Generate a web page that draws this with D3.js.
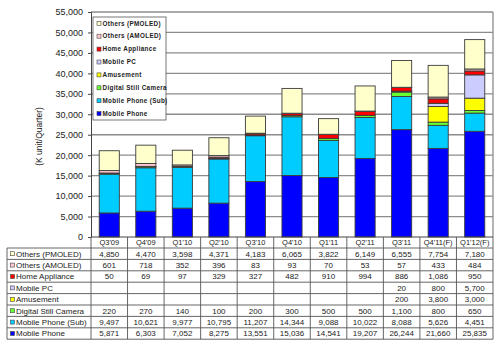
<!DOCTYPE html>
<html>
<head>
<meta charset="utf-8">
<script src="https://cdn.jsdelivr.net/npm/d3@7"></script>
<style>
  body { margin: 0; background: #fff; }
  svg { font-family: Arial, "Liberation Sans", sans-serif; }
</style>
</head>
<body>
<div id="chart"></div>
<script>
// data
const categories = ["Q3'09", "Q4'09", "Q1'10", "Q2'10", "Q3'10", "Q4'10", "Q1'11", "Q2'11", "Q3'11", "Q4'11(F)", "Q1'12(F)"];
const othersPmoled = [4850, 4470, 3598, 4371, 4183, 6065, 3822, 6149, 6555, 7754, 7180];
const othersAmoled = [601, 718, 352, 396, 83, 93, 70, 53, 57, 433, 484];
const homeAppliance = [50, 69, 97, 329, 327, 482, 910, 994, 886, 1086, 950];
const mobilePC = [null, null, null, null, null, null, null, null, 20, 800, 5700];
const amusement = [null, null, null, null, null, null, null, null, 200, 3800, 3000];
const digitalCamera = [220, 270, 140, 100, 200, 300, 500, 500, 1100, 800, 650];
const mobileSub = [9497, 10621, 9977, 10795, 11207, 14344, 9088, 10022, 8088, 5626, 4451];
const mobilePhone = [5871, 6303, 7052, 8275, 13551, 15036, 14541, 19207, 26244, 21660, 25835];
const yTicks = [0, 5000, 10000, 15000, 20000, 25000, 30000, 35000, 40000, 45000, 50000, 55000];

// top-to-bottom order, as in legend and table
const series = [
  { name: "Others (PMOLED)", values: othersPmoled, color: "#ffffcc" },
  { name: "Others (AMOLED)", values: othersAmoled, color: "#ffc8d0" },
  { name: "Home Appliance", values: homeAppliance, color: "#ff0000" },
  { name: "Mobile PC", values: mobilePC, color: "#ccccff" },
  { name: "Amusement", values: amusement, color: "#ffff00" },
  { name: "Digital Still Camera", values: digitalCamera, color: "#66ff33" },
  { name: "Mobile Phone (Sub)", values: mobileSub, color: "#00ccff" },
  { name: "Mobile Phone", values: mobilePhone, color: "#0000ff" }
];

const W = 500, H = 352;
const plot = { left: 91, right: 493, top: 12, bottom: 237 };
const table = { left: 7, top: 248, rowH: 11.4 };

const svg = d3.select("#chart").append("svg")
  .attr("width", W).attr("height", H);

const x = d3.scaleBand()
  .domain(categories)
  .range([plot.left, plot.right])
  .paddingInner(0.45)
  .paddingOuter(0.225);

const y = d3.scaleLinear()
  .domain([0, 55000])
  .range([plot.bottom, plot.top]);

// gridlines
svg.append("g")
  .selectAll("line")
  .data(yTicks.slice(1))
  .join("line")
  .attr("x1", plot.left).attr("x2", plot.right)
  .attr("y1", d => y(d)).attr("y2", d => y(d))
  .attr("stroke", "#8c8c8c").attr("stroke-width", 1.3);

// right border of plot
svg.append("line")
  .attr("x1", plot.right).attr("x2", plot.right)
  .attr("y1", plot.top).attr("y2", plot.bottom)
  .attr("stroke", "#8c8c8c").attr("stroke-width", 1.3);

// y axis
const yAxis = svg.append("g")
  .attr("transform", `translate(${plot.left},0)`)
  .call(d3.axisLeft(y).tickValues(yTicks).tickFormat(d3.format(",")).tickSize(3).tickPadding(5));
yAxis.select(".domain").attr("stroke", "#444");
yAxis.selectAll(".tick line").attr("stroke", "#444");
yAxis.selectAll("text").style("font-size", "9px").attr("fill", "#222");

svg.append("text")
  .attr("transform", `translate(42,${(plot.top + plot.bottom) / 2 + 12}) rotate(-90)`)
  .attr("text-anchor", "middle")
  .style("font-size", "8.5px")
  .attr("fill", "#222")
  .text("(K unit/Quarter)");

// stacked bars
const keys = series.map(s => s.name).reverse();
const rows = categories.map((c, i) => {
  const r = { cat: c };
  series.forEach(s => { r[s.name] = s.values[i] || 0; });
  return r;
});
const stacked = d3.stack().keys(keys)(rows);
const colorOf = Object.fromEntries(series.map(s => [s.name, s.color]));

svg.append("g")
  .selectAll("g")
  .data(stacked)
  .join("g")
  .attr("fill", d => colorOf[d.key])
  .selectAll("rect")
  .data(d => d.filter(p => p[1] > p[0]))
  .join("rect")
  .attr("x", d => x(d.data.cat))
  .attr("width", x.bandwidth())
  .attr("y", d => y(d[1]))
  .attr("height", d => y(d[0]) - y(d[1]))
  .attr("stroke", "#3a3a3a")
  .attr("stroke-width", 0.9);

// x axis line
svg.append("line")
  .attr("x1", plot.left).attr("x2", plot.right)
  .attr("y1", plot.bottom).attr("y2", plot.bottom)
  .attr("stroke", "#444");

// legend
const lg = svg.append("g").attr("transform", "translate(93,17)");
lg.append("rect")
  .attr("width", 73).attr("height", 103)
  .attr("fill", "#fff").attr("stroke", "#555").attr("stroke-width", 0.8);
const li = lg.selectAll("g.item")
  .data(series)
  .join("g")
  .attr("class", "item")
  .attr("transform", (d, i) => `translate(4,${6.3 + i * 12.9})`);
li.append("rect")
  .attr("x", 0).attr("y", -2).attr("width", 4).attr("height", 4)
  .attr("fill", d => d.color).attr("stroke", "#444").attr("stroke-width", 0.6);
li.append("text")
  .attr("x", 5.5).attr("dy", "0.35em")
  .style("font-size", "6.3px")
  .style("font-weight", "bold")
  .style("letter-spacing", "0.35px")
  .attr("fill", "#222")
  .text(d => d.name);

// data table
const colEdges = categories.map(c => x(c) - x.step() * x.paddingInner() / 2);
colEdges.push(plot.right);
const tableBottom = table.top + series.length * table.rowH;
const tg = svg.append("g");

// category header row
tg.selectAll("text.cat")
  .data(categories)
  .join("text")
  .attr("class", "cat")
  .attr("x", d => x(d) + x.bandwidth() / 2)
  .attr("y", (plot.bottom + table.top) / 2)
  .attr("dy", "0.35em")
  .attr("text-anchor", "middle")
  .style("font-size", "7.5px")
  .attr("fill", "#222")
  .text(d => d);

// vertical lines
tg.selectAll("line.v")
  .data(colEdges)
  .join("line")
  .attr("class", "v")
  .attr("x1", d => d).attr("x2", d => d)
  .attr("y1", plot.bottom).attr("y2", tableBottom)
  .attr("stroke", "#555").attr("stroke-width", 0.9);
tg.append("line")
  .attr("x1", table.left).attr("x2", table.left)
  .attr("y1", table.top).attr("y2", tableBottom)
  .attr("stroke", "#555").attr("stroke-width", 0.9);

// horizontal lines
tg.selectAll("line.h")
  .data(d3.range(series.length + 1))
  .join("line")
  .attr("class", "h")
  .attr("x1", table.left).attr("x2", plot.right)
  .attr("y1", i => table.top + i * table.rowH)
  .attr("y2", i => table.top + i * table.rowH)
  .attr("stroke", "#555").attr("stroke-width", 0.9);

const tr = tg.selectAll("g.row")
  .data(series)
  .join("g")
  .attr("class", "row")
  .attr("transform", (d, i) => `translate(0,${table.top + (i + 0.5) * table.rowH})`);
tr.append("rect")
  .attr("x", table.left + 3.5).attr("y", -2).attr("width", 4).attr("height", 4)
  .attr("fill", d => d.color).attr("stroke", "#444").attr("stroke-width", 0.6);
tr.append("text")
  .attr("x", table.left + 9)
  .attr("dy", "0.35em")
  .style("font-size", "8px")
  .attr("fill", "#222")
  .text(d => d.name);
tr.selectAll("text.val")
  .data(d => d.values.map((v, i) => ({ v, cat: categories[i] })).filter(e => e.v != null))
  .join("text")
  .attr("class", "val")
  .attr("x", e => x(e.cat) + x.bandwidth() / 2)
  .attr("dy", "0.35em")
  .attr("text-anchor", "middle")
  .style("font-size", "8px")
  .attr("fill", "#222")
  .text(e => d3.format(",")(e.v));
</script>
</body>
</html>
